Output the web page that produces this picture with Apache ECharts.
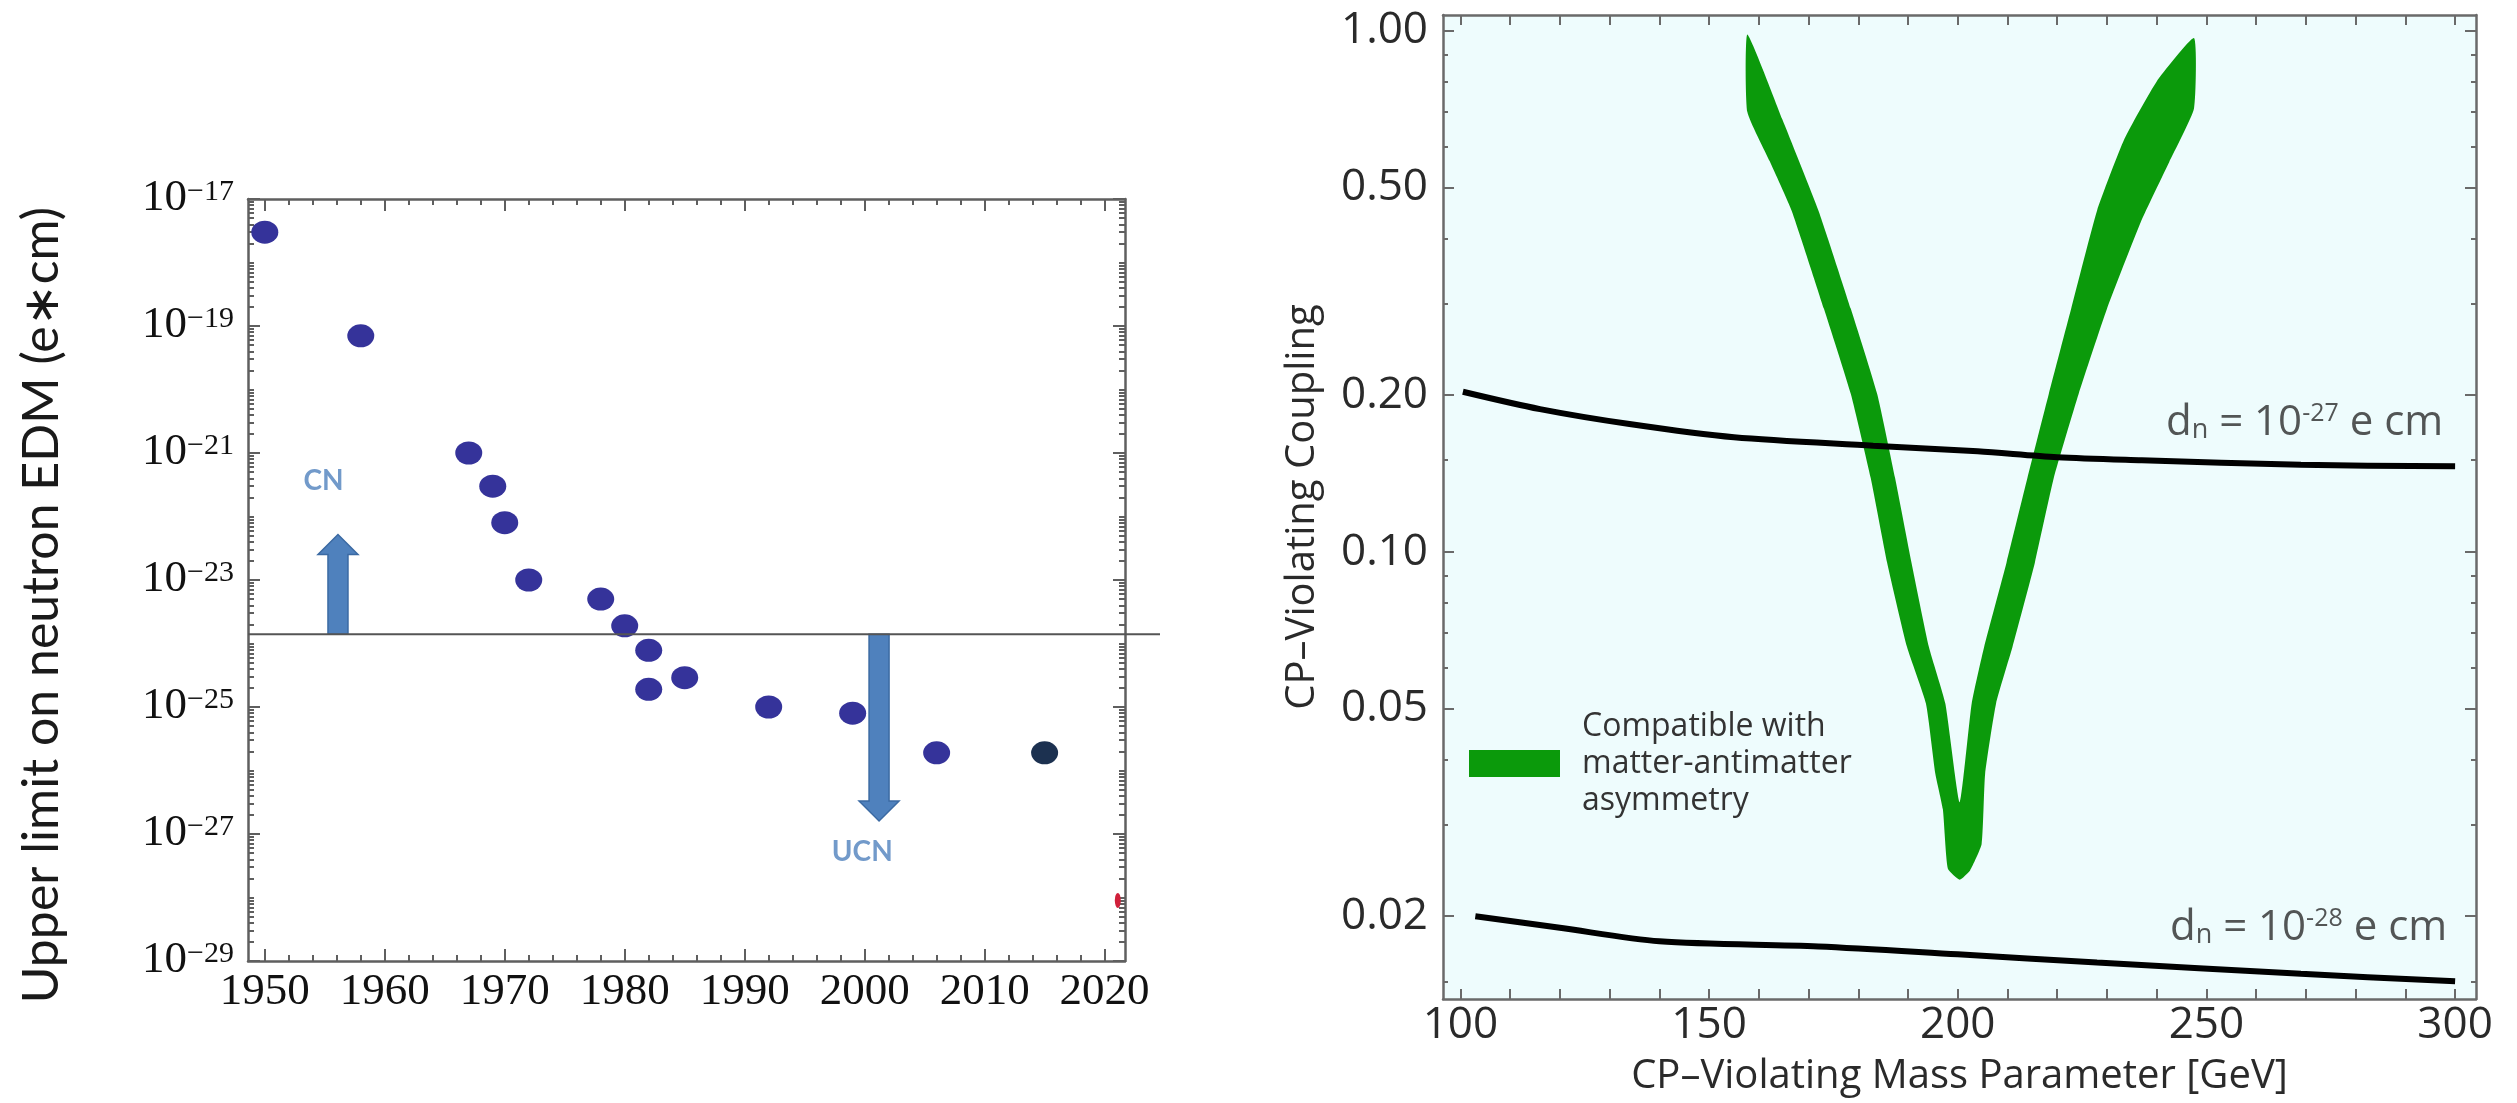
<!DOCTYPE html>
<html>
<head>
<meta charset="utf-8">
<script src="https://cdn.jsdelivr.net/npm/echarts@6/dist/echarts.min.js"></script>
<style>
  html, body { margin: 0; padding: 0; background: #fff; }
  #chart { width: 2517px; height: 1103px; }
</style>
</head>
<body>
<div id="chart"></div>
<script>
// ---- left panel: neutron EDM upper limits ----
const edmYears = [1950, 1958, 1967, 1969, 1970, 1972, 1978, 1980, 1982, 1982, 1985, 1992, 1999, 2006];
const edmLimits = [3e-18, 7e-20, 1e-21, 3e-22, 8e-23, 1e-23, 5e-24, 1.9e-24, 7.8e-25, 1.9e-25, 2.9e-25, 1e-25, 8e-26, 1.9e-26];
const recentYears = [2015];
const recentLimits = [1.9e-26];
const projYears = [2021.1];
const projLimits = [9e-29];
const levelLine = 1.4e-24;
const arrowYears = [1956.1, 2001.2];
const arrowEnds = [5.2e-23, 1.6e-27];
const arrowNames = ['CN', 'UCN'];
const arrowNameYears = [1954.9, 1999.8];
const arrowNameValues = [3.6e-22, 5.2e-28];
const yearTicks = [1950, 1960, 1970, 1980, 1990, 2000, 2010, 2020];
const edmTicks = [1e-29, 1e-27, 1e-25, 1e-23, 1e-21, 1e-19, 1e-17];

// ---- right panel: CP-violating coupling vs mass ----
// outline of the green band, clockwise from the top of the left arm
const bandMass = [157.7, 164.7, 172.0, 178.5, 183.8, 187.4, 190.7, 194.2, 197.5, 200.4,
  202.8, 205.3, 209.8, 214.0, 218.3, 222.8, 228.0, 233.5, 240.0, 247.5,
  247.5, 242.5, 236.8, 230.0, 224.3, 219.3, 215.5, 211.0, 207.7, 205.5,
  204.8, 202.5, 200.4, 198.0, 197.0, 195.5, 193.6, 189.8, 185.8, 182.5,
  178.5, 173.1, 166.6, 162.2, 157.7];
const bandCoupling = [0.984, 0.678, 0.452, 0.293, 0.201, 0.1386, 0.0954, 0.0657, 0.0512, 0.0331,
  0.0512, 0.0657, 0.0954, 0.1386, 0.201, 0.293, 0.452, 0.62, 0.80, 0.969,
  0.710, 0.56, 0.43, 0.293, 0.201, 0.1386, 0.0954, 0.0657, 0.0512, 0.0375,
  0.0275, 0.0245, 0.0235, 0.0247, 0.0321, 0.0375, 0.0512, 0.0657, 0.0954, 0.1386,
  0.201, 0.293, 0.452, 0.562, 0.699];
const upperMass = [100.5, 116, 134, 155, 183, 204, 220, 237, 269, 300];
const upperCoupling = [0.203, 0.188, 0.176, 0.166, 0.16, 0.156, 0.152, 0.15, 0.147, 0.146];
const lowerMass = [103, 120, 140, 172, 200, 228, 269, 300];
const lowerCoupling = [0.020, 0.019, 0.0179, 0.0175, 0.0169, 0.0163, 0.0155, 0.015];
const dnExponents = ['-27', '-28'];
const dnMass = [297.6, 298.4];
const dnCoupling = [0.177, 0.019];
const massTicks = [100, 150, 200, 250, 300];
const couplingTicks = [0.02, 0.05, 0.1, 0.2, 0.5, 1];
const couplingMinor = [0.015, 0.03, 0.04, 0.06, 0.07, 0.08, 0.09, 0.15, 0.3, 0.4, 0.6, 0.7, 0.8, 0.9];

const yearMinor = [];
for (let y = 1950; y <= 2020; y += 2) if (y % 10) yearMinor.push(y);
const edmMinor = [];
for (let n = -29; n < -17; n++) {
  for (let k = 2; k <= 9; k++) edmMinor.push(k * Math.pow(10, n));
  if (n % 2 === 0) edmMinor.push(Math.pow(10, n));
}
const massMinor = [];
for (let m = 100; m <= 300; m += 10) massMinor.push(m);

const chart = echarts.init(document.getElementById('chart'));

const leftGrey = '#5f5f5f';
const rightGrey = '#6a6a6a';
const serif = 'Liberation Serif';
const sans = 'Open Sans';
const L = { xmin: 1948.6, xmax: 2021.7, ymin: 0.9995e-29, ymax: 1.0005e-17 };
const R = { xmin: 96.5, xmax: 304.2, ymin: 0.01387, ymax: 1.073 };

function tickAxis(grid, type, pos, min, max, ticks, len, color, line) {
  return {
    gridIndex: grid, type: type, position: pos, min: min, max: max,
    axisLine: { show: line, onZero: false, lineStyle: { color: color, width: 2.5 } },
    axisTick: { show: true, inside: true, length: len, customValues: ticks, lineStyle: { color: color, width: 2 } },
    axisLabel: { show: false },
    splitLine: { show: false },
    minorTick: { show: false }
  };
}

const xAxes = [
  Object.assign(tickAxis(0, 'value', 'bottom', L.xmin, L.xmax, yearTicks, 12, leftGrey, true), {
    axisLabel: {
      show: true, customValues: yearTicks, margin: 9, fontFamily: serif, fontSize: 45, color: '#111',
      formatter: v => String(v)
    }
  }),
  tickAxis(0, 'value', 'bottom', L.xmin, L.xmax, yearMinor, 6, leftGrey, false),
  tickAxis(0, 'value', 'top', L.xmin, L.xmax, yearTicks, 12, leftGrey, true),
  tickAxis(0, 'value', 'top', L.xmin, L.xmax, yearMinor, 6, leftGrey, false),
  { gridIndex: 1, type: 'value', min: L.xmin, max: 2024.6, show: false },
  Object.assign(tickAxis(2, 'value', 'bottom', R.xmin, R.xmax, massMinor, 10, rightGrey, true), {
    axisLabel: { show: true, customValues: massTicks, margin: 4, fontFamily: sans, fontSize: 44, color: '#2a2a2a' },
    name: 'CP\u2013Violating Mass Parameter [GeV]', nameLocation: 'middle', nameGap: 58,
    nameTextStyle: { fontFamily: sans, fontSize: 40, color: '#2a2a2a' }
  }),
  tickAxis(2, 'value', 'top', R.xmin, R.xmax, massMinor, 10, rightGrey, true)
];

const yAxes = [
  Object.assign(tickAxis(0, 'log', 'left', L.ymin, L.ymax, edmTicks, 12, leftGrey, true), {
    axisLabel: {
      show: true, customValues: edmTicks, margin: 14,
      formatter: function (v) {
        const e = Math.round(Math.log10(v));
        return '{b|10}{s|\u2212' + (-e) + '}';
      },
      rich: {
        b: { fontFamily: serif, fontSize: 45, color: '#111', lineHeight: 44, padding: [8, 0, 0, 0], verticalAlign: 'bottom' },
        s: { fontFamily: serif, fontSize: 30, color: '#111', lineHeight: 30, verticalAlign: 'top' }
      }
    },
    name: 'Upper limit on neutron EDM (e\u2217cm)', nameLocation: 'middle', nameGap: 181,
    nameTextStyle: { fontFamily: 'Lato', fontSize: 50, color: '#1a1a1a', padding: [0, 50, 0, 0] }
  }),
  tickAxis(0, 'log', 'left', L.ymin, L.ymax, edmMinor, 6, leftGrey, false),
  tickAxis(0, 'log', 'right', L.ymin, L.ymax, edmTicks, 12, leftGrey, true),
  tickAxis(0, 'log', 'right', L.ymin, L.ymax, edmMinor, 6, leftGrey, false),
  { gridIndex: 1, type: 'log', min: L.ymin, max: L.ymax, show: false },
  Object.assign(tickAxis(2, 'log', 'left', R.ymin, R.ymax, couplingTicks, 11, rightGrey, true), {
    axisLabel: {
      show: true, customValues: couplingTicks, margin: 15, fontFamily: sans, fontSize: 44, color: '#2a2a2a',
      formatter: function (v) { return v.toFixed(2); }
    },
    name: 'CP\u2013Violating Coupling', nameLocation: 'middle', nameGap: 120,
    nameTextStyle: { fontFamily: sans, fontSize: 40, color: '#2a2a2a' }
  }),
  tickAxis(2, 'log', 'left', R.ymin, R.ymax, couplingMinor, 5, rightGrey, false),
  tickAxis(2, 'log', 'right', R.ymin, R.ymax, couplingTicks, 11, rightGrey, true),
  tickAxis(2, 'log', 'right', R.ymin, R.ymax, couplingMinor, 5, rightGrey, false)
];

const bandName = 'Compatible with\nmatter-antimatter\nasymmetry';

const option = {
  animation: false,
  backgroundColor: '#ffffff',
  grid: [
    { left: 248, right: 2517 - 1125, top: 199, bottom: 1103 - 961, outerBoundsMode: 'none' },
    { left: 248, right: 2517 - 1160, top: 199, bottom: 1103 - 961, outerBoundsMode: 'none' },
    { left: 1443, right: 2517 - 2476, top: 15, bottom: 1103 - 999, outerBoundsMode: 'none',
      show: true, backgroundColor: '#eefcfd', borderWidth: 0 }
  ],
  legend: {
    left: 1464, top: 666, selectedMode: false,
    data: [{ name: bandName, icon: 'rect' }],
    itemWidth: 91, itemHeight: 27,
    textStyle: { fontFamily: sans, fontSize: 32, lineHeight: 37, color: '#333', padding: [74, 0, 0, 17] }
  },
  xAxis: xAxes,
  yAxis: yAxes,
  series: [
    {
      type: 'line', xAxisIndex: 4, yAxisIndex: 4, symbol: 'none', silent: true,
      data: [[L.xmin, levelLine], [2024.6, levelLine]],
      lineStyle: { color: '#555', width: 2 }
    },
    {
      type: 'custom', xAxisIndex: 0, yAxisIndex: 0, silent: true,
      data: arrowYears.map((y, i) => [y, levelLine, arrowEnds[i]]),
      encode: { x: 0, y: [1, 2] },
      renderItem: function (params, api) {
        const a = api.coord([api.value(0), api.value(1)]);
        const b = api.coord([api.value(0), api.value(2)]);
        const d = b[1] > a[1] ? 1 : -1;
        const x = a[0], hy = b[1] - d * 20;
        return {
          type: 'polygon',
          shape: { points: [[x - 10, a[1]], [x - 10, hy], [x - 20, hy], [x, b[1]], [x + 20, hy], [x + 10, hy], [x + 10, a[1]]] },
          style: { fill: '#4f81bd', stroke: '#3b6aa3', lineWidth: 1.5 }
        };
      }
    },
    {
      type: 'scatter', xAxisIndex: 0, yAxisIndex: 0, silent: true,
      data: arrowNameYears.map((y, i) => [y, arrowNameValues[i], arrowNames[i]]),
      symbolSize: 0,
      label: {
        show: true, position: 'inside', formatter: p => p.value[2],
        fontFamily: 'Lato', fontWeight: 'bold', fontSize: 28, color: '#4f81bd'
      }
    },
    {
      type: 'scatter', xAxisIndex: 0, yAxisIndex: 0, silent: true,
      data: edmYears.map((y, i) => [y, edmLimits[i]]),
      symbol: 'circle', symbolSize: [27, 23],
      itemStyle: { color: '#35339a', opacity: 1 }
    },
    {
      type: 'scatter', xAxisIndex: 0, yAxisIndex: 0, silent: true,
      data: recentYears.map((y, i) => [y, recentLimits[i]]),
      symbol: 'circle', symbolSize: [27, 23],
      itemStyle: { color: '#1c3150', opacity: 1 }
    },
    {
      type: 'scatter', xAxisIndex: 0, yAxisIndex: 0, silent: true,
      data: projYears.map((y, i) => [y, projLimits[i]]),
      symbol: 'circle', symbolSize: [6, 15],
      itemStyle: { color: '#d0203a', opacity: 1 }
    },
    {
      name: bandName, type: 'custom', xAxisIndex: 5, yAxisIndex: 5, silent: true,
      data: bandMass.map((m, i) => [m, bandCoupling[i]]),
      encode: { x: 0, y: 1 },
      itemStyle: { color: '#0b9a0b' },
      renderItem: function (params, api) {
        if (params.dataIndex !== 0) return null;
        const pts = bandMass.map((m, i) => api.coord([m, bandCoupling[i]]));
        return { type: 'polygon', shape: { points: pts, smooth: 0.15 }, style: { fill: '#0b9a0b' } };
      }
    },
    {
      type: 'line', xAxisIndex: 5, yAxisIndex: 5, symbol: 'none', silent: true, smooth: 0.3,
      data: upperMass.map((m, i) => [m, upperCoupling[i]]),
      lineStyle: { color: '#000', width: 6 }
    },
    {
      type: 'line', xAxisIndex: 5, yAxisIndex: 5, symbol: 'none', silent: true, smooth: 0.3,
      data: lowerMass.map((m, i) => [m, lowerCoupling[i]]),
      lineStyle: { color: '#000', width: 6 }
    },
    {
      type: 'scatter', xAxisIndex: 5, yAxisIndex: 5, silent: true,
      data: dnMass.map((m, i) => [m, dnCoupling[i], dnExponents[i]]),
      symbolSize: 0,
      label: {
        show: true, position: 'left', distance: 0,
        formatter: p => '{t|d}{sub|n}{t| = 10}{sup|' + p.value[2] + '}{t| e cm}',
        rich: {
          t: { fontFamily: sans, fontSize: 42, color: '#2a2a2a', lineHeight: 42, verticalAlign: 'middle' },
          sub: { fontFamily: sans, fontSize: 27, color: '#2a2a2a', lineHeight: 27, verticalAlign: 'bottom' },
          sup: { fontFamily: sans, fontSize: 25, color: '#2a2a2a', lineHeight: 25, verticalAlign: 'top' }
        }
      }
    }
  ]
};

chart.setOption(option);
</script>
</body>
</html>
